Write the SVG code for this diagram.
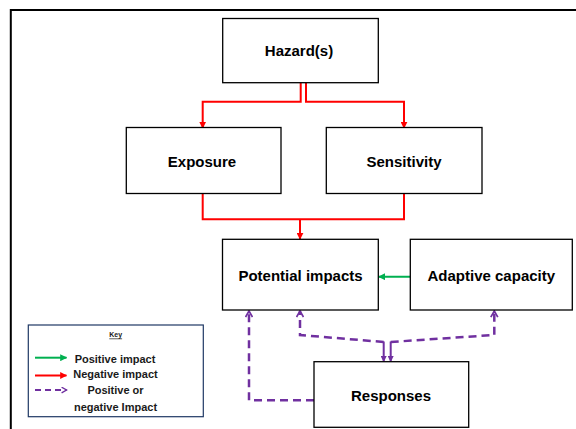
<svg xmlns="http://www.w3.org/2000/svg" width="576" height="429" viewBox="0 0 576 429">
<style>
.box{fill:#fff;stroke:#000;stroke-width:1.3}
.lbl{font-family:"Liberation Sans",Arial,sans-serif;font-weight:bold;font-size:15px;fill:#000;text-anchor:middle;dominant-baseline:central}
.red{fill:none;stroke:#ff0000;stroke-width:2}
.grn{fill:none;stroke:#00b050;stroke-width:2}
.pur{fill:none;stroke:#7030a0;stroke-width:2.5;stroke-dasharray:8,5}
.purs{fill:none;stroke:#7030a0;stroke-width:2}
.key{font-family:"Liberation Sans",Arial,sans-serif;font-weight:bold;font-size:11px;fill:#1a1a1a;text-anchor:middle;dominant-baseline:central}
</style>
<defs>
<marker id="ar" viewBox="0 0 10 10" refX="9" refY="5" markerWidth="3.5" markerHeight="3.5" orient="auto" markerUnits="strokeWidth">
<path d="M0,0 L10,5 L0,10 z" fill="#ff0000"/>
</marker>
<marker id="ag" viewBox="0 0 10 10" refX="9" refY="5" markerWidth="3.5" markerHeight="3.5" orient="auto" markerUnits="strokeWidth">
<path d="M0,0 L10,5 L0,10 z" fill="#00b050"/>
</marker>
<marker id="ap" viewBox="0 0 10 10" refX="8" refY="5" markerWidth="3.5" markerHeight="3.5" orient="auto" markerUnits="strokeWidth">
<path d="M1,1 L8,5 L1,9" fill="none" stroke="#7030a0" stroke-width="2"/>
</marker>
<marker id="apf" viewBox="0 0 10 10" refX="9" refY="5" markerWidth="3" markerHeight="3" orient="auto" markerUnits="strokeWidth">
<path d="M0,0 L10,5 L0,10 z" fill="#7030a0"/>
</marker>
</defs>
<rect width="576" height="429" fill="#fff"/>
<path d="M10.8,429 L10.8,10 L576,10" fill="none" stroke="#000" stroke-width="2"/>
<g id="connectors">
<path class="red" d="M300.7,83 V101.7 H202.7 V128" marker-end="url(#ar)"/>
<path class="red" d="M306,83 V101.7 H404 V128" marker-end="url(#ar)"/>
<path class="red" d="M202.7,193.5 V219.3 H404 V193.5"/>
<path class="red" d="M300,219.3 V239" marker-end="url(#ar)"/>
<path class="grn" d="M410.3,276.7 H378.8" marker-end="url(#ag)"/>
<path class="pur" d="M314,400.3 H249 V311" marker-end="url(#ap)"/>
<path class="pur" d="M383.7,342 L300,335 V311" marker-end="url(#ap)"/>
<path class="pur" d="M390.7,342 L494.3,335 V311" marker-end="url(#ap)"/>
<path class="purs" d="M383.7,341.5 V361.5" marker-end="url(#apf)"/>
<path class="purs" d="M390.7,341.5 V361.5" marker-end="url(#apf)"/>
</g>
<g id="hazard"><rect class="box" x="222.7" y="18.5" width="155.6" height="64.2"/><text class="lbl" x="299" y="50.5">Hazard(s)</text></g>
<g id="exposure"><rect class="box" x="126.3" y="127.5" width="154.7" height="66"/><text class="lbl" x="202" y="161">Exposure</text></g>
<g id="sensitivity"><rect class="box" x="326.3" y="127.5" width="155.7" height="66"/><text class="lbl" x="404" y="161">Sensitivity</text></g>
<g id="potential"><rect class="box" x="222.5" y="239.3" width="155.8" height="70.7"/><text class="lbl" x="300.5" y="275">Potential impacts</text></g>
<g id="adaptive"><rect class="box" x="410.3" y="239.3" width="162" height="70.7"/><text class="lbl" x="491.3" y="275">Adaptive capacity</text></g>
<g id="responses"><rect class="box" x="314" y="361.7" width="154.7" height="65.6"/><text class="lbl" x="391" y="395.5">Responses</text></g>
<g id="key">
<rect x="28.3" y="325" width="175" height="91.7" fill="#fff" stroke="#1f3864" stroke-width="1.2"/>
<text class="key" x="115.7" y="334" style="font-size:7px" text-decoration="underline">Key</text>
<path d="M35,357.7 H66.5" class="grn" stroke-width="1.5" marker-end="url(#ag)"/>
<text class="key" x="115" y="358.5">Positive impact</text>
<path d="M35,375.5 H66.5" class="red" stroke-width="1.5" marker-end="url(#ar)"/>
<text class="key" x="115.5" y="374.3">Negative impact</text>
<path d="M35,390 H66.5" fill="none" stroke="#7030a0" stroke-width="2" stroke-dasharray="6,4" marker-end="url(#ap)"/>
<text class="key" x="115.5" y="390">Positive or</text>
<text class="key" x="115.5" y="407.3">negative Impact</text>
</g>
</svg>
